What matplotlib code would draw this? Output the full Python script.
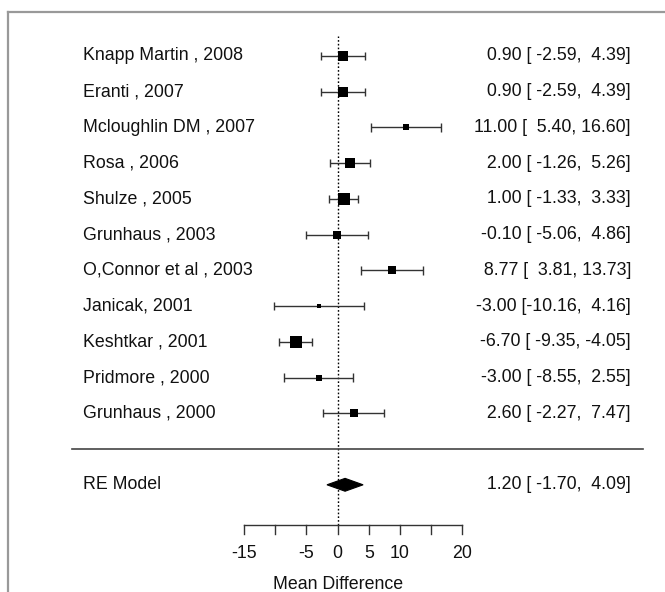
import matplotlib
matplotlib.use("Agg")
import matplotlib.pyplot as plt
from matplotlib.lines import Line2D
from matplotlib.patches import Polygon
import numpy as np

plt.rcParams['font.family'] = ['Liberation Sans', 'DejaVu Sans']

# ---------------- data ----------------
studies = ["Knapp Martin , 2008", "Eranti , 2007", "Mcloughlin DM , 2007",
           "Rosa , 2006", "Shulze , 2005", "Grunhaus , 2003",
           "O,Connor et al , 2003", "Janicak, 2001", "Keshtkar , 2001",
           "Pridmore , 2000", "Grunhaus , 2000"]
estimates = [0.90, 0.90, 11.00, 2.00, 1.00, -0.10, 8.77, -3.00, -6.70, -3.00, 2.60]
ci_lower = [-2.59, -2.59, 5.40, -1.26, -1.33, -5.06, 3.81, -10.16, -9.35, -8.55, -2.27]
ci_upper = [4.39, 4.39, 16.60, 5.26, 3.33, 4.86, 13.73, 4.16, -4.05, 2.55, 7.47]
re_label = "RE Model"
re_estimate = 1.20
re_lower = -1.70
re_upper = 4.09
tick_values = [-15, -10, -5, 0, 5, 10, 15, 20]
tick_labels = ["-15", "", "-5", "0", "5", "10", "", "20"]
x_label = "Mean Difference"
tau2 = 19.0  # between-study variance estimate (random-effects weights)

# ---------------- layout ----------------
FS = 12.8
fig = plt.figure(figsize=(6.65, 5.92), dpi=100)
ax = fig.add_axes([0, 0, 1, 1])
ax.set_xlim(-54.12, 52.49)
ax.set_ylim(-4.0, 12.567)
ax.axis('off')

k = len(studies)
rows = np.arange(k, 0, -1)
est = np.array(estimates)
lo = np.array(ci_lower)
hi = np.array(ci_upper)

# weights -> square sizes (as metafor does)
vi = ((hi - lo) / (2 * 1.96)) ** 2
wi = 1.0 / (vi + tau2)
ps = wi / wi.sum()
ps = (ps - ps.min()) / (ps.max() - ps.min()) + 0.5
base_px = 8.0

label_x = -40.81
annot_x = 47.03

# reference line
ax.plot([0, 0], [-2.126, 11.56], color='black', lw=1.0, ls=(0, (1.2, 1.5)), zorder=1)

# CIs
ax.hlines(rows, lo, hi, color='#333333', lw=1.0, zorder=2)
cap = 0.115
ax.vlines(lo, rows - cap, rows + cap, color='#333333', lw=1.0, zorder=2)
ax.vlines(hi, rows - cap, rows + cap, color='#333333', lw=1.0, zorder=2)
for r, e, p in zip(rows, est, ps):
    ax.plot(e, r, marker='s', ms=base_px * p * 0.72, color='black', mec='black', mew=0, zorder=3)

# annotations (R-style padded)
all_est = list(estimates) + [re_estimate]
all_lo = list(ci_lower) + [re_lower]
all_hi = list(ci_upper) + [re_upper]
es = [f"{v:.2f}" for v in all_est]
ls_ = [f"{v:.2f}" for v in all_lo]
hs = [f"{v:.2f}" for v in all_hi]
w1 = max(len(s) for s in es)
w2 = max(len(s) for s in ls_)
w3 = max(len(s) for s in hs)
annots = [a.rjust(w1) + " [" + b.rjust(w2) + ", " + c.rjust(w3) + "]" for a, b, c in zip(es, ls_, hs)]

for r, name, a in zip(rows, studies, annots[:k]):
    ax.text(label_x, r, name, ha='left', va='center', fontsize=FS, color='#111111')
    ax.text(annot_x, r, a, ha='right', va='center', fontsize=FS, color='#111111')

# separator
ax.plot([-42.58, 48.96], [0, 0], color='#444444', lw=1.2)

# summary diamond
h = 0.18
ax.add_patch(Polygon([[re_lower, -1], [re_estimate, -1 + h], [re_upper, -1], [re_estimate, -1 - h]],
                     closed=True, facecolor='black', edgecolor='black', lw=0.8, zorder=3))
ax.text(label_x, -1, re_label, ha='left', va='center', fontsize=FS, color='#111111')
ax.text(annot_x, -1, annots[-1], ha='right', va='center', fontsize=FS, color='#111111')

# x axis
ay = -2.126
tl = 0.252
ax.plot([tick_values[0], tick_values[-1]], [ay, ay], color='#333333', lw=1.0)
for t, lab in zip(tick_values, tick_labels):
    ax.plot([t, t], [ay, ay - tl], color='#333333', lw=1.0)
    if lab:
        ax.text(t, -2.91, lab, ha='center', va='center', fontsize=FS, color='#111111')
ax.text(0, -3.80, x_label, ha='center', va='center', fontsize=FS, color='#111111')

# outer frame (partially visible)
fx = 8 / 665
fy = 1 - 11.5 / 592
fig.add_artist(Line2D([fx, fx], [0, fy], transform=fig.transFigure, color='#999999', lw=1.6))
fig.add_artist(Line2D([fx, 1], [fy, fy], transform=fig.transFigure, color='#999999', lw=1.6))

fig.savefig("out.png", dpi=100)
